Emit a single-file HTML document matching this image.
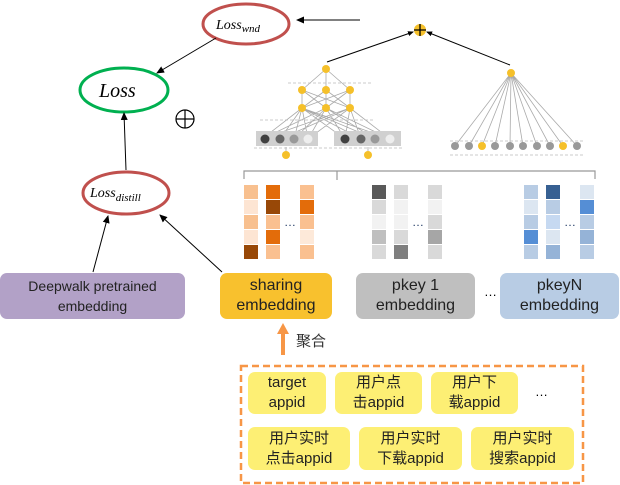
<!DOCTYPE html>
<html><head><meta charset="utf-8"><style>
body{margin:0;width:620px;height:485px;background:#fff;position:relative;overflow:hidden;font-family:"Liberation Sans","Noto Sans CJK SC",sans-serif}
.b{position:absolute;border-radius:7px;display:flex;align-items:center;justify-content:center;text-align:center;color:#222;line-height:20px}
svg{position:absolute;left:0;top:0}
</style></head><body>
<svg width="620" height="485" viewBox="0 0 620 485">
<defs><marker id="a" markerWidth="8" markerHeight="8" refX="7" refY="4" orient="auto" markerUnits="userSpaceOnUse"><path d="M0,0.5 L8,4 L0,7.5z" fill="#000"/></marker>
<marker id="s" markerWidth="6" markerHeight="6" refX="5" refY="3" orient="auto" markerUnits="userSpaceOnUse"><path d="M0,0.5 L6,3 L0,5.5z" fill="#000"/></marker></defs>
<ellipse cx="246" cy="24" rx="43" ry="20" fill="#fff" stroke="#c0504d" stroke-width="3"/>
<text x="216" y="29" font-family="Liberation Serif,serif" font-style="italic" font-size="14">Loss<tspan font-size="11" dy="3">wnd</tspan></text>
<ellipse cx="124" cy="90" rx="44" ry="22" fill="#fff" stroke="#00b050" stroke-width="3"/>
<text x="99" y="97" font-family="Liberation Serif,serif" font-style="italic" font-size="20">Loss</text>
<circle cx="185" cy="119" r="9" fill="none" stroke="#000" stroke-width="1.2"/><path d="M176,119h18M185,110v18" stroke="#000" stroke-width="1.2"/>
<ellipse cx="126" cy="193" rx="43" ry="21" fill="#fff" stroke="#c0504d" stroke-width="3"/>
<text x="90" y="197" font-family="Liberation Serif,serif" font-style="italic" font-size="14">Loss<tspan font-size="11" dy="4">distill</tspan></text>
<line x1="216" y1="38" x2="157" y2="73" stroke="#000" marker-end="url(#a)"/>
<line x1="126" y1="170" x2="124" y2="113" stroke="#000" marker-end="url(#a)"/>
<line x1="93" y1="272" x2="108" y2="216" stroke="#000" marker-end="url(#a)"/>
<line x1="222" y1="272" x2="160" y2="215" stroke="#000" marker-end="url(#a)"/>
<line x1="360" y1="20" x2="297" y2="20" stroke="#000" marker-end="url(#a)"/>
<line x1="327" y1="62" x2="413" y2="32" stroke="#000" marker-end="url(#s)"/>
<line x1="510" y1="65" x2="427" y2="32" stroke="#000" marker-end="url(#s)"/>
<circle cx="420" cy="30" r="6" fill="#f5c02a"/><path d="M414,30h12M420,24v12" stroke="#000" stroke-width="1.3"/>
<g stroke="#aaa" stroke-width="0.8" fill="none">
<path d="M326,69L302,90M326,69L326,90M326,69L350,90M302,90V108M326,90V108M350,90V108M302,90L326,108M302,90L350,108M326,90L302,108M326,90L350,108M350,90L302,108M350,90L326,108"/>
<path d="M302,108L262,139M302,108L280,139M302,108L294,139M302,108L308,139M302,108L345,139M302,108L361,139M302,108L375,139M302,108L390,139M326,108L262,139M326,108L294,139M326,108L345,139M326,108L375,139M326,108L390,139M326,108L308,139M350,108L262,139M350,108L280,139M350,108L308,139M350,108L345,139M350,108L361,139M350,108L390,139"/>
<path d="M511,73L455,146M511,73L469,146M511,73L482,146M511,73L495,146M511,73L510,146M511,73L523,146M511,73L537,146M511,73L550,146M511,73L563,146M511,73L577,146"/>
<path d="M286,147V155M368,147V155"/>
</g>
<g stroke="#bbb" stroke-dasharray="3,2" stroke-width="0.8"><path d="M288,83H372M260,120H375M254,148H402M450,141H585M450,155H585"/></g>
<rect x="256" y="131" width="62" height="15" fill="#d0d0d0"/><rect x="334" y="131" width="67" height="15" fill="#d0d0d0"/>
<g fill="#404040"><circle cx="265" cy="139" r="4.5"/><circle cx="345" cy="139" r="4.5"/></g>
<g fill="#666"><circle cx="280" cy="139" r="4.5"/><circle cx="361" cy="139" r="4.5"/></g>
<g fill="#999"><circle cx="294" cy="139" r="4.5"/><circle cx="375" cy="139" r="4.5"/></g>
<g fill="#eee"><circle cx="308" cy="139" r="4.5"/><circle cx="390" cy="139" r="4.5"/></g>
<g fill="#f5c02a"><circle cx="286" cy="155" r="4"/><circle cx="368" cy="155" r="4"/>
<circle cx="326" cy="69" r="4"/><circle cx="302" cy="90" r="4"/><circle cx="326" cy="90" r="4"/><circle cx="350" cy="90" r="4"/><circle cx="302" cy="108" r="4"/><circle cx="326" cy="108" r="4"/><circle cx="350" cy="108" r="4"/><circle cx="511" cy="73" r="4"/></g>
<g fill="#999"><circle cx="455" cy="146" r="4"/><circle cx="469" cy="146" r="4"/><circle cx="495" cy="146" r="4"/><circle cx="510" cy="146" r="4"/><circle cx="523" cy="146" r="4"/><circle cx="537" cy="146" r="4"/><circle cx="550" cy="146" r="4"/><circle cx="577" cy="146" r="4"/></g>
<g fill="#f5c02a"><circle cx="482" cy="146" r="4"/><circle cx="563" cy="146" r="4"/></g>
<path d="M244,179V171H595V179M337,171V180" stroke="#999" stroke-width="1.2" fill="none"/>
<g id="e"></g>
<g font-size="12" fill="#1f3864"><text x="284" y="226">…</text><text x="412" y="226">…</text><text x="564" y="226">…</text></g>
<path d="M283,355V332" stroke="#f79646" stroke-width="4"/><path d="M277,334L283,323L289,334z" fill="#f79646"/>
<rect x="241" y="366" width="342" height="117" fill="none" stroke="#f79646" stroke-width="2.5" stroke-dasharray="7,4"/>
</svg>
<script>
var cols=[[244,["#f8c08f","#fde5d3","#f8c08f","#fde5d3","#984807"]],[266,["#e36c0a","#984807","#fac090","#e36c0a","#fac090"]],[300,["#fac090","#e36c0a","#fac090","#fde9d9","#fac090"]],
[372,["#595959","#d9d9d9","#f2f2f2","#bfbfbf","#d9d9d9"]],[394,["#d9d9d9","#f2f2f2","#f2f2f2","#d9d9d9","#7f7f7f"]],[428,["#d9d9d9","#f2f2f2","#d9d9d9","#a6a6a6","#d9d9d9"]],
[524,["#b8cce4","#dce6f1","#b8cce4","#558ed5","#b8cce4"]],[546,["#376092","#b8cce4","#c6d9f1","#dce6f1","#95b3d7"]],[580,["#dce6f1","#558ed5","#b8cce4","#95b3d7","#b8cce4"]]];
var g=document.getElementById('e'),h='';
cols.forEach(function(c){c[1].forEach(function(col,i){h+='<rect x="'+c[0]+'" y="'+(185+i*15)+'" width="14" height="14" fill="'+col+'"/>';});});
g.innerHTML=h;
</script>
<div class="b" style="left:0;top:273px;width:185px;height:46px;background:#b2a1c7;font-size:14px;line-height:20px">Deepwalk pretrained<br>embedding</div>
<div class="b" style="left:220px;top:273px;width:112px;height:46px;background:#f8c12e;font-size:16px">sharing<br>embedding</div>
<div class="b" style="left:356px;top:273px;width:119px;height:46px;background:#bfbfbf;font-size:16px">pkey 1<br>embedding</div>
<div class="b" style="left:500px;top:273px;width:119px;height:46px;background:#b8cce4;font-size:16px">pkeyN<br>embedding</div>
<div style="position:absolute;left:484px;top:284px;font-size:13px">…</div>
<div style="position:absolute;left:296px;top:330px;font-size:15px;color:#333">聚合</div>
<div class="b" style="left:248px;top:372px;width:78px;height:42px;background:#fdef74;font-size:15px;line-height:20px">target<br>appid</div>
<div class="b" style="left:335px;top:372px;width:87px;height:42px;background:#fdef74;font-size:15px;line-height:20px">用户点<br>击appid</div>
<div class="b" style="left:431px;top:372px;width:87px;height:42px;background:#fdef74;font-size:15px;line-height:20px">用户下<br>载appid</div>
<div style="position:absolute;left:535px;top:384px;font-size:13px">…</div>
<div class="b" style="left:248px;top:427px;width:102px;height:43px;background:#fdef74;font-size:15px;line-height:20px">用户实时<br>点击appid</div>
<div class="b" style="left:359px;top:427px;width:103px;height:43px;background:#fdef74;font-size:15px;line-height:20px">用户实时<br>下载appid</div>
<div class="b" style="left:471px;top:427px;width:103px;height:43px;background:#fdef74;font-size:15px;line-height:20px">用户实时<br>搜索appid</div>
</body></html>
